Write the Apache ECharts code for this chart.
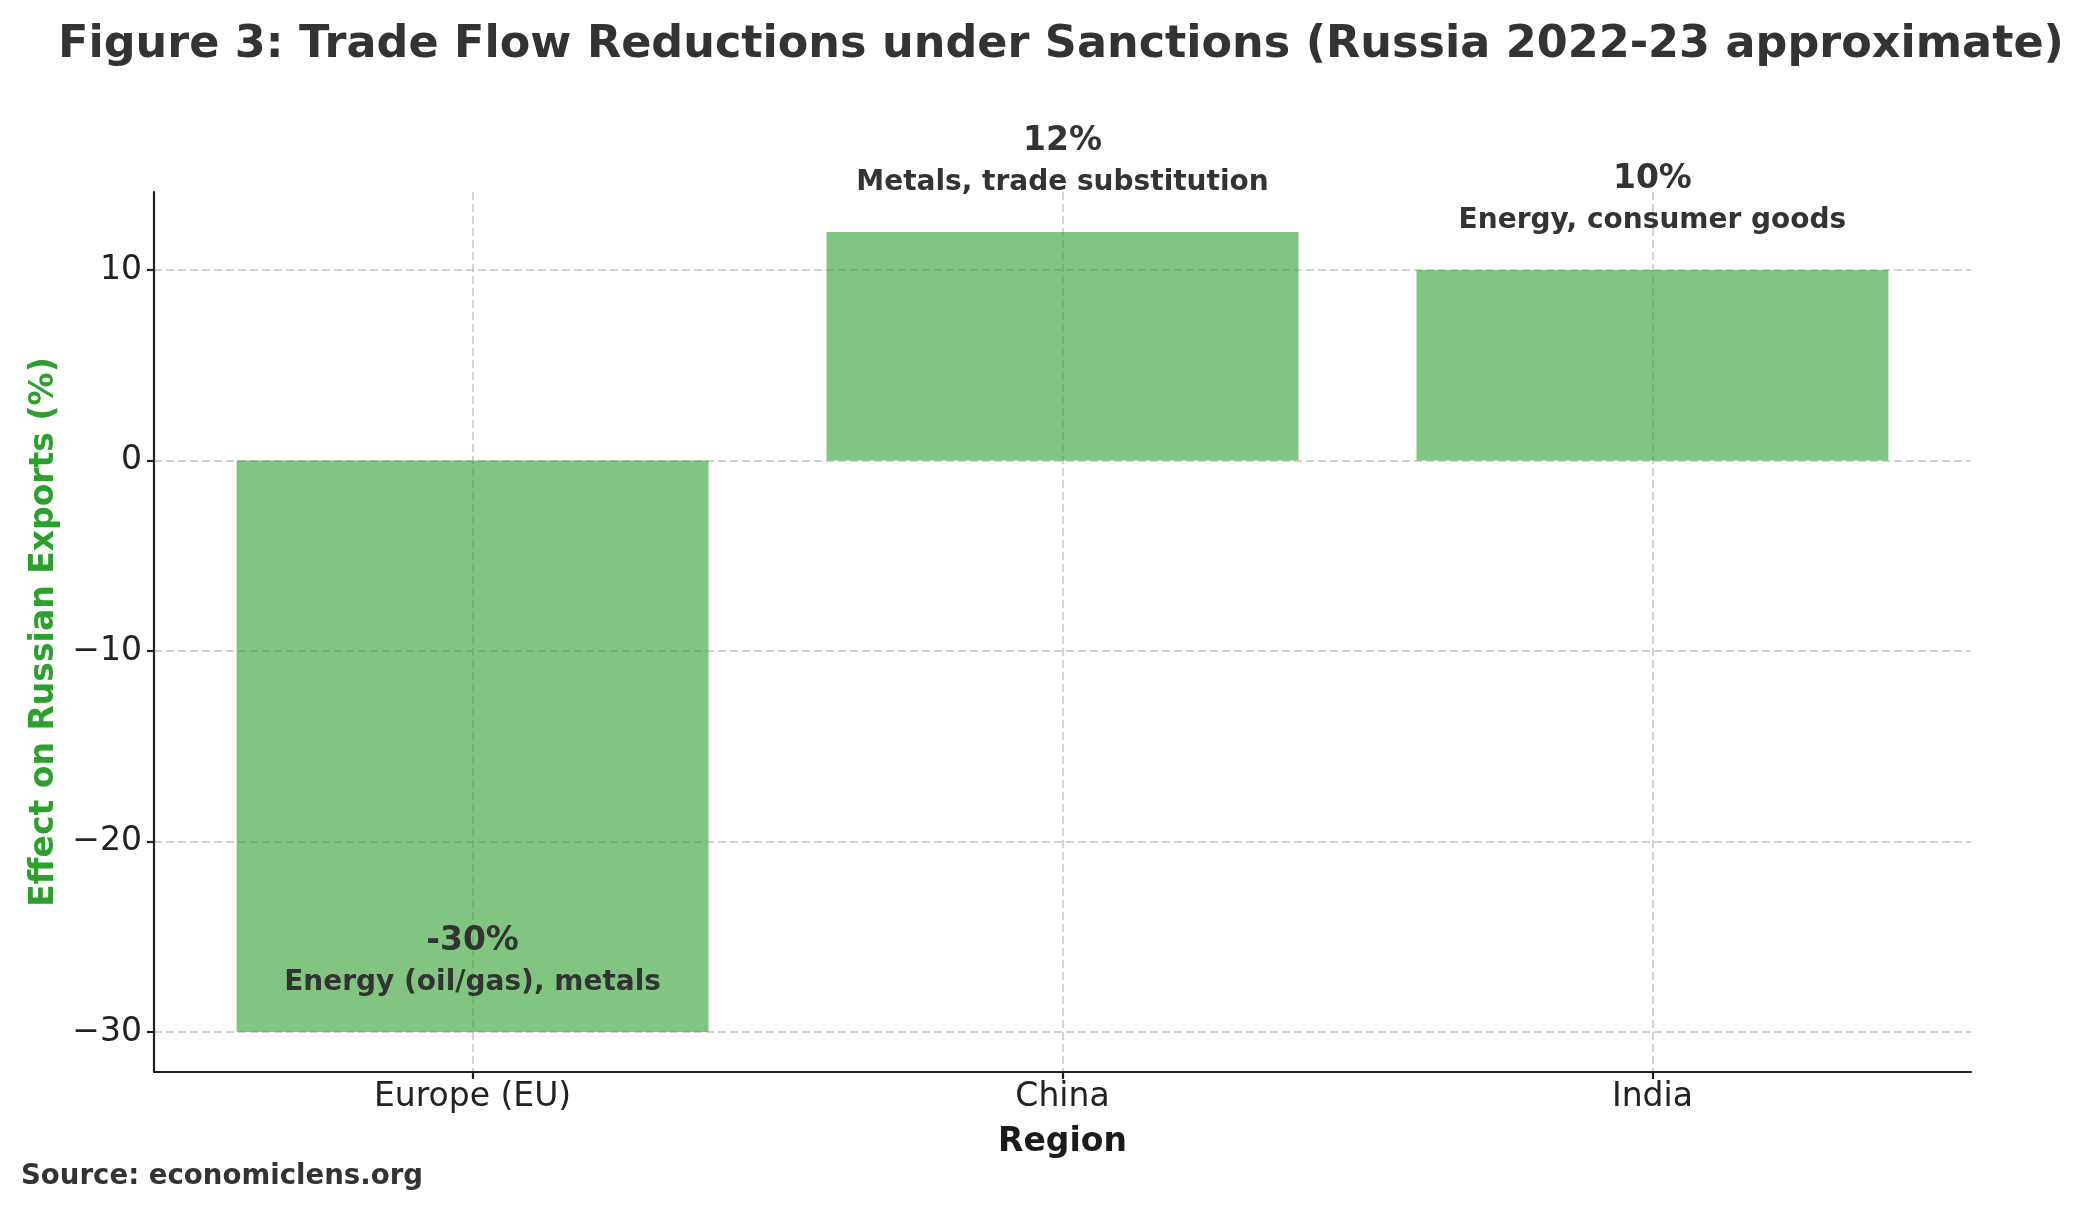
<!DOCTYPE html>
<html>
<head>
<meta charset="utf-8">
<script src="https://cdn.jsdelivr.net/npm/echarts@6/dist/echarts.min.js"></script>
<style>
  html, body { margin: 0; padding: 0; background: #fff; }
  #chart { width: 2085px; height: 1211px; }
</style>
</head>
<body>
<div id="chart"></div>
<script>
// data
const regions = ['Europe (EU)', 'China', 'India'];
const effects = [-30, 12, 10];
const sectors = ['Energy (oil/gas), metals', 'Metals, trade substitution', 'Energy, consumer goods'];
const yTicks = [-30, -20, -10, 0, 10];
const xTicks = [0, 1, 2];

const FONT = 'DejaVu Sans';
const W = 2085, H = 1211;
const grid = { left: 154, right: 114, top: 192, bottom: 139 };
const xMin = -0.54, xMax = 2.54;
const unitPx = (W - grid.left - grid.right) / (xMax - xMin);

const dashed = { color: '#c4c4c4', width: 1.5, type: [8, 4] };
const spine = { color: '#222', width: 2.2 };
const minus = v => (v < 0 ? '\u2212' + Math.abs(v) : String(v));

const chart = echarts.init(document.getElementById('chart'), null, { renderer: 'canvas' });
chart.setOption({
  animation: false,
  backgroundColor: '#fff',
  title: {
    text: 'Figure 3: Trade Flow Reductions under Sanctions (Russia 2022-23 approximate)',
    left: 1061, top: 23, textAlign: 'center', padding: 0,
    textStyle: { fontFamily: FONT, fontSize: 44.5, fontWeight: 'bold', color: '#333' }
  },
  graphic: [{
    type: 'text', left: 21, top: 1163,
    style: { text: 'Source: economiclens.org', font: 'bold 27.6px "DejaVu Sans"', fill: '#333' }
  }],
  grid: grid,
  xAxis: {
    type: 'value', min: xMin, max: xMax,
    name: 'Region', nameLocation: 'middle', nameGap: 54,
    nameTextStyle: { fontFamily: FONT, fontSize: 33, fontWeight: 'bold', color: '#1a1a1a' },
    axisLine: { show: true, onZero: false, lineStyle: spine },
    axisTick: { show: true, customValues: xTicks, length: 7, lineStyle: spine },
    axisLabel: {
      customValues: xTicks, margin: 9, formatter: v => regions[v],
      fontFamily: FONT, fontSize: 33, color: '#222'
    },
    splitLine: { show: true, lineStyle: dashed }
  },
  yAxis: {
    type: 'value', min: -32.1, max: 14.1,
    name: 'Effect on Russian Exports (%)', nameLocation: 'middle', nameRotate: 90, nameGap: 93,
    nameTextStyle: { fontFamily: FONT, fontSize: 33, fontWeight: 'bold', color: '#2ca02c' },
    axisLine: { show: true, onZero: false, lineStyle: spine },
    axisTick: { show: true, customValues: yTicks, length: 7, lineStyle: spine },
    axisLabel: {
      customValues: yTicks, margin: 12, formatter: minus,
      fontFamily: FONT, fontSize: 33, color: '#222'
    },
    splitLine: { show: true, lineStyle: dashed }
  },
  series: [
    {
      type: 'bar',
      data: effects.map((v, i) => [i, v]),
      barWidth: 0.8 * unitPx,
      itemStyle: { color: '#2ca02c', opacity: 0.6 },
      z: 2
    },
    {
      type: 'scatter',
      data: effects.map((v, i) => [i, v]),
      symbolSize: 1,
      itemStyle: { color: 'rgba(0,0,0,0)', opacity: 1 },
      z: 3,
      label: {
        show: true, position: 'top', distance: 35, opacity: 1,
        formatter: p => '{v|' + effects[p.dataIndex] + '%}\n{d|' + sectors[p.dataIndex] + '}',
        rich: {
          v: { fontFamily: FONT, fontSize: 33, fontWeight: 'bold', color: '#333', lineHeight: 54, align: 'center' },
          d: { fontFamily: FONT, fontSize: 28, fontWeight: 'bold', color: '#333', lineHeight: 28, align: 'center' }
        }
      }
    }
  ]
});
</script>
</body>
</html>
